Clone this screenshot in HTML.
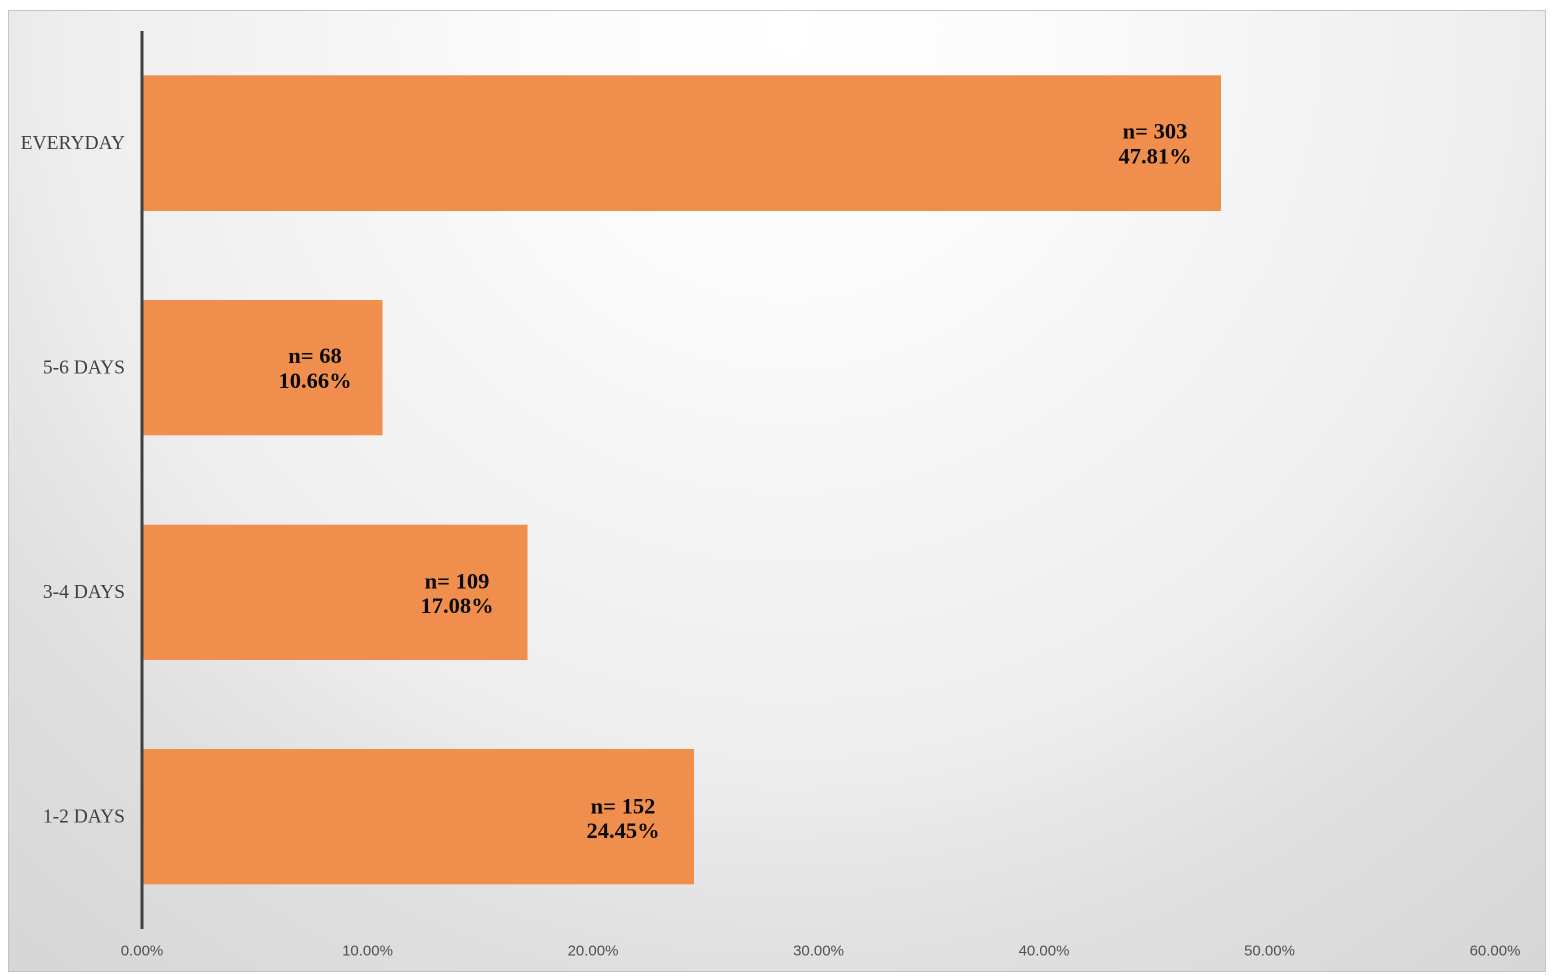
<!DOCTYPE html>
<html>
<head>
<meta charset="utf-8">
<style>
html,body{margin:0;padding:0;background:#ffffff;}
body{width:1552px;height:979px;overflow:hidden;position:relative;}
#frame{position:absolute;left:8px;top:10px;width:1536px;height:960px;border:1px solid #c4c4c4;
background:radial-gradient(circle 1280px at 780px 20px,#ffffff 0px,#fbfbfb 260px,#eeeeee 720px,#dfdfdf 950px,#d4d4d4 1280px);}
svg{position:absolute;left:0;top:0;}
.cat{font-family:"Liberation Serif",serif;font-size:19.5px;fill:#404040;}
.tick{font-family:"Liberation Sans",sans-serif;font-size:15px;fill:#505050;}
.lbl{font-family:"Liberation Serif",serif;font-size:22.5px;font-weight:bold;fill:#0a0a0a;}
</style>
</head>
<body>
<div id="frame"></div>
<svg width="1552" height="979" viewBox="0 0 1552 979">
  <!-- bars -->
  <rect x="143" y="75.3" width="1078" height="135.7" fill="#F08E4E"/>
  <rect x="143" y="300" width="239.5" height="135.3" fill="#F08E4E"/>
  <rect x="143" y="524.7" width="384.5" height="135.3" fill="#F08E4E"/>
  <rect x="143" y="749" width="551" height="135.3" fill="#F08E4E"/>
  <!-- axis -->
  <line x1="142" y1="31" x2="142" y2="929" stroke="#404040" stroke-width="3"/>
  <!-- category labels -->
  <text class="cat" x="125" y="149" text-anchor="end">EVERYDAY</text>
  <text class="cat" x="125" y="373.5" text-anchor="end">5-6 DAYS</text>
  <text class="cat" x="125" y="598" text-anchor="end">3-4 DAYS</text>
  <text class="cat" x="125" y="822.3" text-anchor="end">1-2 DAYS</text>
  <!-- tick labels -->
  <text class="tick" x="142" y="955.5" text-anchor="middle">0.00%</text>
  <text class="tick" x="367.5" y="955.5" text-anchor="middle">10.00%</text>
  <text class="tick" x="593" y="955.5" text-anchor="middle">20.00%</text>
  <text class="tick" x="818.5" y="955.5" text-anchor="middle">30.00%</text>
  <text class="tick" x="1044" y="955.5" text-anchor="middle">40.00%</text>
  <text class="tick" x="1269.5" y="955.5" text-anchor="middle">50.00%</text>
  <text class="tick" x="1495" y="955.5" text-anchor="middle">60.00%</text>
  <!-- data labels -->
  <text class="lbl" x="1155" y="138.5" text-anchor="middle">n= 303</text>
  <text class="lbl" x="1155" y="163.5" text-anchor="middle">47.81%</text>
  <text class="lbl" x="315" y="363" text-anchor="middle">n= 68</text>
  <text class="lbl" x="315" y="388" text-anchor="middle">10.66%</text>
  <text class="lbl" x="457" y="588.3" text-anchor="middle">n= 109</text>
  <text class="lbl" x="457" y="613" text-anchor="middle">17.08%</text>
  <text class="lbl" x="623" y="813.3" text-anchor="middle">n= 152</text>
  <text class="lbl" x="623" y="838" text-anchor="middle">24.45%</text>
</svg>
</body>
</html>
